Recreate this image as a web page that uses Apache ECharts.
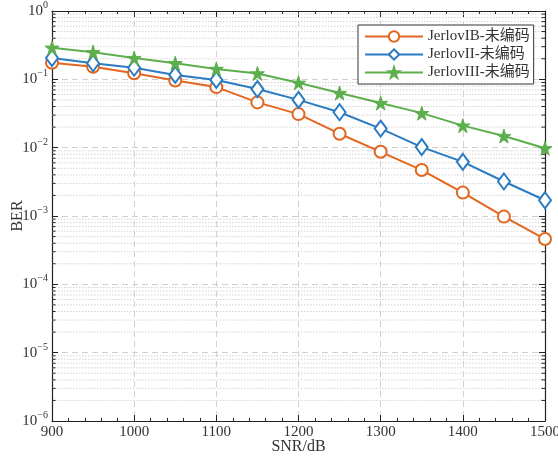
<!DOCTYPE html>
<html>
<head>
<meta charset="utf-8">
<script src="https://cdn.jsdelivr.net/npm/echarts@6/dist/echarts.min.js"></script>
<style>
  html, body { margin: 0; padding: 0; background: #fff; }
  #chart { width: 558px; height: 459px; }
</style>
</head>
<body>
<div id="chart"></div>
<script>
// 信噪比 (x)
const snr = [900, 950, 1000, 1050, 1100, 1150, 1200, 1250, 1300, 1350, 1400, 1450, 1500];
// BER 曲线
const berIB = [0.175, 0.153, 0.123, 0.096, 0.077, 0.046, 0.031, 0.016, 0.0087, 0.0047, 0.0022, 0.00098, 0.00046];
const berII = [0.205, 0.172, 0.148, 0.116, 0.098, 0.072, 0.050, 0.033, 0.019, 0.0102, 0.0062, 0.0032, 0.0017];
const berIII = [0.29, 0.25, 0.205, 0.172, 0.142, 0.122, 0.089, 0.063, 0.045, 0.032, 0.021, 0.0148, 0.0098];
const seriesNames = ['JerlovIB-未编码', 'JerlovII-未编码', 'JerlovIII-未编码'];
// 对数轴次刻度 (2..9 x 10^k)
const decades = [-6, -5, -4, -3, -2, -1];
const minorVals = [];
decades.forEach(function (k) {
  for (let m = 2; m <= 9; m++) minorVals.push(m * Math.pow(10, k));
});

const FONT = "'Liberation Serif', 'DejaVu Serif', 'Noto Sans CJK SC', serif";
const colors = ['#E2661F', '#2A7BC2', '#5DAE4C'];
const starPath = 'path://M50,0 L61,35 L98,35 L68,57 L79,91 L50,70 L21,91 L32,57 L2,35 L39,35 Z';

function zip(ys) {
  return snr.map(function (x, i) { return [x, ys[i]]; });
}

function expLabel(v) {
  const e = Math.round(Math.log10(v));
  const s = e === 0 ? '0' : '\u2212' + (-e);
  return '{b|10}{s|' + s + '}';
}

const chart = echarts.init(document.getElementById('chart'));

const xCommon = {
  type: 'value',
  min: 900,
  max: 1500,
  interval: 100,
  axisLine: { show: true, onZero: false, lineStyle: { color: '#222', width: 1.2 } },
  axisTick: { show: true, inside: true, length: 6, lineStyle: { color: '#222' } },
  minorTick: { show: true, splitNumber: 5, length: 3, lineStyle: { color: '#222' } }
};
const yCommon = {
  type: 'log',
  logBase: 10,
  min: 1e-6,
  max: 1,
  splitNumber: 6,
  axisLine: { show: true, onZero: false, lineStyle: { color: '#222', width: 1.2 } },
  axisTick: { show: true, inside: true, length: 6, lineStyle: { color: '#222' } },
  minorTick: { show: false }
};

const option = {
  backgroundColor: '#fff',
  animation: false,
  textStyle: { fontFamily: FONT },
  grid: { left: 52, right: 13, top: 11, bottom: 38, containLabel: false, outerBoundsMode: 'none' },
  legend: {
    data: seriesNames,
    orient: 'vertical',
    left: 358,
    top: 25,
    itemWidth: 58,
    itemHeight: 13,
    itemGap: 3,
    padding: [4, 4, 4, 6],
    borderColor: '#333',
    borderWidth: 1,
    backgroundColor: '#fff',
    textStyle: { fontFamily: FONT, fontSize: 15, color: '#333' }
  },
  xAxis: [
    Object.assign({}, xCommon, {
      position: 'bottom',
      name: 'SNR/dB',
      nameLocation: 'middle',
      nameGap: 18,
      nameMoveOverlap: false,
      nameTextStyle: { fontFamily: FONT, fontSize: 16, color: '#333' },
      axisLabel: { fontFamily: FONT, fontSize: 15, color: '#333', margin: 4,
        formatter: function (v) { return String(v); } },
      splitLine: { show: true, lineStyle: { color: '#d0d0d0', type: [6, 4], width: 1 } }
    }),
    Object.assign({}, xCommon, {
      position: 'top',
      axisLabel: { show: false },
      splitLine: { show: false }
    })
  ],
  yAxis: [
    Object.assign({}, yCommon, {
      position: 'left',
      name: 'BER',
      nameLocation: 'middle',
      nameGap: 26,
      nameMoveOverlap: false,
      nameTextStyle: { fontFamily: FONT, fontSize: 16, color: '#333' },
      axisLabel: {
        margin: 4,
        formatter: expLabel,
        rich: {
          b: { fontFamily: FONT, fontSize: 15, color: '#333' },
          s: { fontFamily: FONT, fontSize: 10, color: '#333', padding: [0, 0, 11, 0] }
        }
      },
      splitLine: { show: true, lineStyle: { color: '#d0d0d0', type: [6, 4], width: 1 } }
    }),
    Object.assign({}, yCommon, {
      position: 'right',
      axisLabel: { show: false },
      splitLine: { show: false }
    })
  ],
  series: [
    {
      name: 'minor',
      type: 'custom',
      silent: true,
      z: 1,
      xAxisIndex: 0,
      yAxisIndex: 0,
      data: minorVals.map(function (v) { return [900, v]; }),
      renderItem: function (params, api) {
        const cs = params.coordSys;
        const y = api.coord([900, api.value(1)])[1];
        const x0 = cs.x, x1 = cs.x + cs.width;
        return {
          type: 'group',
          children: [
            { type: 'line', shape: { x1: x0, y1: y, x2: x1, y2: y },
              style: { stroke: '#d4d4d4', lineWidth: 1, lineDash: [1.5, 1.5] } },
            { type: 'line', shape: { x1: x0, y1: y, x2: x0 + 3.5, y2: y },
              style: { stroke: '#222', lineWidth: 1 } },
            { type: 'line', shape: { x1: x1 - 3.5, y1: y, x2: x1, y2: y },
              style: { stroke: '#222', lineWidth: 1 } }
          ]
        };
      }
    },
    {
      name: seriesNames[0],
      type: 'line',
      z: 3,
      data: zip(berIB),
      color: colors[0],
      symbol: 'emptyCircle',
      symbolSize: 12,
      lineStyle: { width: 2, color: colors[0] },
      itemStyle: { color: colors[0], borderColor: colors[0], borderWidth: 2 }
    },
    {
      name: seriesNames[1],
      type: 'line',
      z: 3,
      data: zip(berII),
      color: colors[1],
      symbol: 'emptyDiamond',
      symbolSize: [12, 16],
      lineStyle: { width: 2, color: colors[1] },
      itemStyle: { color: colors[1], borderColor: colors[1], borderWidth: 2 }
    },
    {
      name: seriesNames[2],
      type: 'line',
      z: 3,
      data: zip(berIII),
      color: colors[2],
      symbol: starPath,
      symbolSize: 14,
      lineStyle: { width: 2, color: colors[2] },
      itemStyle: { color: colors[2], borderColor: colors[2], borderWidth: 1 }
    }
  ]
};

chart.setOption(option);
</script>
</body>
</html>
